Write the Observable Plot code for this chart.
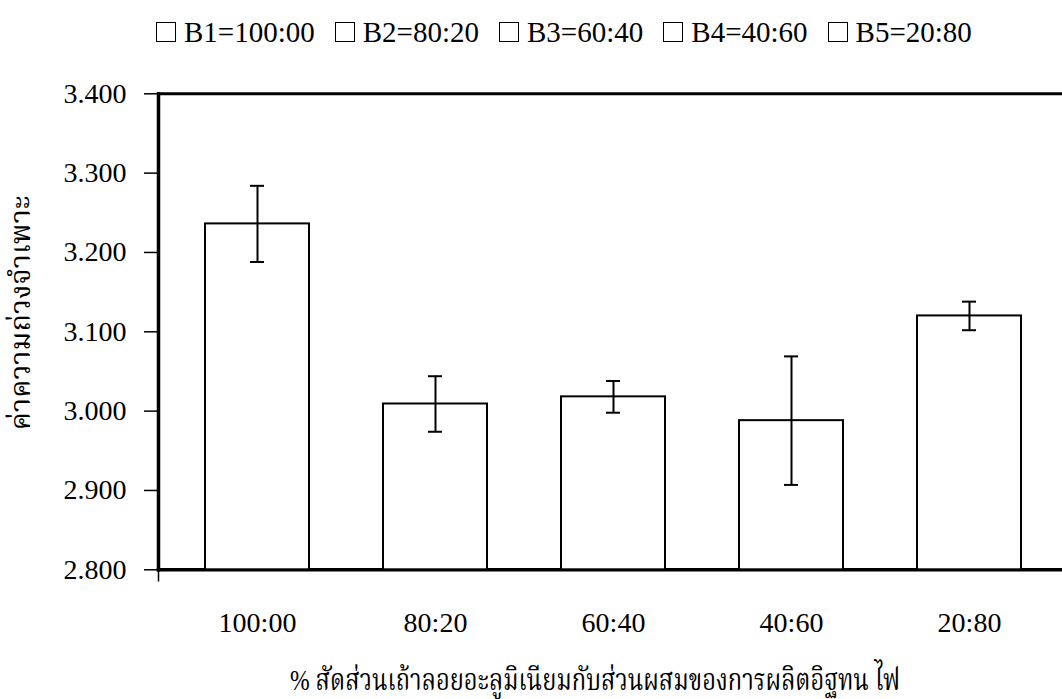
<!DOCTYPE html>
<html>
<head>
<meta charset="utf-8">
<script src="https://cdn.jsdelivr.net/npm/d3@7"></script>
<script src="https://cdn.jsdelivr.net/npm/@observablehq/plot@0.6"></script>
<style>
  html, body { margin: 0; padding: 0; background: #fff; }
  body { position: relative; width: 1062px; height: 699px; overflow: hidden; font-family: "Liberation Serif", "Noto Serif Thai", "Noto Sans Thai", serif; color: #000; }
  #legend { position: relative; height: 62px; }
  #legend .items { position: absolute; left: 156px; top: 16px; display: flex; align-items: center; font-size: 29px; line-height: 32px; white-space: nowrap; }
  #legend .item { display: flex; align-items: center; margin-right: 20px; }
  #legend .sw { width: 20px; height: 20px; border: 1.5px solid #000; background: #fff; margin-right: 8px; box-sizing: border-box; }
  #chart svg { display: block; }
  #xtitle { position: absolute; top: 664px; left: 0; font-size: 30px; line-height: 32px; white-space: nowrap; transform-origin: 0 50%; }
</style>
</head>
<body>
<div id="legend"><div class="items"></div></div>
<div id="chart"></div>
<div id="xtitle"></div>
<script>
const categories = ["100:00", "80:20", "60:40", "40:60", "20:80"];
const legendLabels = ["B1=100:00", "B2=80:20", "B3=60:40", "B4=40:60", "B5=20:80"];
const values = [3.236, 3.009, 3.018, 2.988, 3.120];
const errors = [0.048, 0.035, 0.020, 0.081, 0.018];
const yTicks = [2.8, 2.9, 3.0, 3.1, 3.2, 3.3, 3.4];
const yDomain = [2.8, 3.4];
const yTitle = "ค่าความถ่วงจำเพาะ";
const xTitle = "% สัดส่วนเถ้าลอยอะลูมิเนียมกับส่วนผสมของการผลิตอิฐทน ไฟ";

const data = categories.map((c, i) => ({cat: c, value: values[i], lo: values[i] - errors[i], hi: values[i] + errors[i]}));

// legend
const items = d3.select("#legend .items");
legendLabels.forEach(l => {
  const it = items.append("div").attr("class", "item");
  it.append("div").attr("class", "sw");
  it.append("span").text(l);
});

const font = "'Liberation Serif', 'Noto Serif Thai', 'Noto Sans Thai', serif";

const chart = Plot.plot({
  width: 1062,
  height: 637,
  marginLeft: 158,
  marginRight: 0,
  marginTop: 31.3,
  marginBottom: 129.7,
  style: {fontFamily: font, fontSize: "28px", color: "#000", background: "#fff"},
  x: {type: "band", domain: categories, paddingInner: 0.416, paddingOuter: 0, insetLeft: 46.5, insetRight: 41, label: null},
  y: {domain: yDomain, label: null},
  marks: [
    Plot.frame({anchor: "top", stroke: "#000", strokeWidth: 3}),
    Plot.frame({anchor: "bottom", stroke: "#000", strokeWidth: 3.5}),
    Plot.frame({anchor: "left", stroke: "#000", strokeWidth: 1.5, insetBottom: -11}),
    Plot.barY(data, {x: "cat", y1: yDomain[0], y2: "value", fill: "#fff", stroke: "#000", strokeWidth: 2}),
    Plot.ruleX(data, {x: "cat", y1: "lo", y2: "hi", stroke: "#000", strokeWidth: 2}),
    Plot.tickY(data, {x: "cat", y: "hi", stroke: "#000", strokeWidth: 2, insetLeft: 45, insetRight: 45}),
    Plot.tickY(data, {x: "cat", y: "lo", stroke: "#000", strokeWidth: 2, insetLeft: 45, insetRight: 45}),
    Plot.frame({anchor: "left", stroke: "#000", strokeWidth: 3.5}),
    Plot.axisY({ticks: yTicks, tickFormat: d3.format(".3f"), tickSize: 14, tickPadding: 18, fontSize: 28, stroke: "#000", strokeWidth: 1.5, label: null}),
    Plot.axisX({tickSize: 0, tickPadding: 42, fontSize: 28, label: null}),
    Plot.text([yTitle], {frameAnchor: "left", textAnchor: "middle", rotate: -90, dx: -137, dy: -19, fontSize: 28, fill: "#000", className: "ytitle"})
  ]
});
// condense the Thai title to the narrow face used in the original
d3.select(chart).selectAll(".ytitle text").attr("textLength", 235).attr("lengthAdjust", "spacingAndGlyphs");
document.getElementById("chart").appendChild(chart);

// x-axis title below the plot, condensed to the original's width and centred like it
const xt = document.getElementById("xtitle");
xt.textContent = xTitle;
const natural = xt.getBoundingClientRect().width;
const targetWidth = 610, targetCenter = 595;
const s = targetWidth / natural;
xt.style.left = (targetCenter - targetWidth / 2) + "px";
xt.style.transform = `scaleX(${s})`;
</script>
</body>
</html>
